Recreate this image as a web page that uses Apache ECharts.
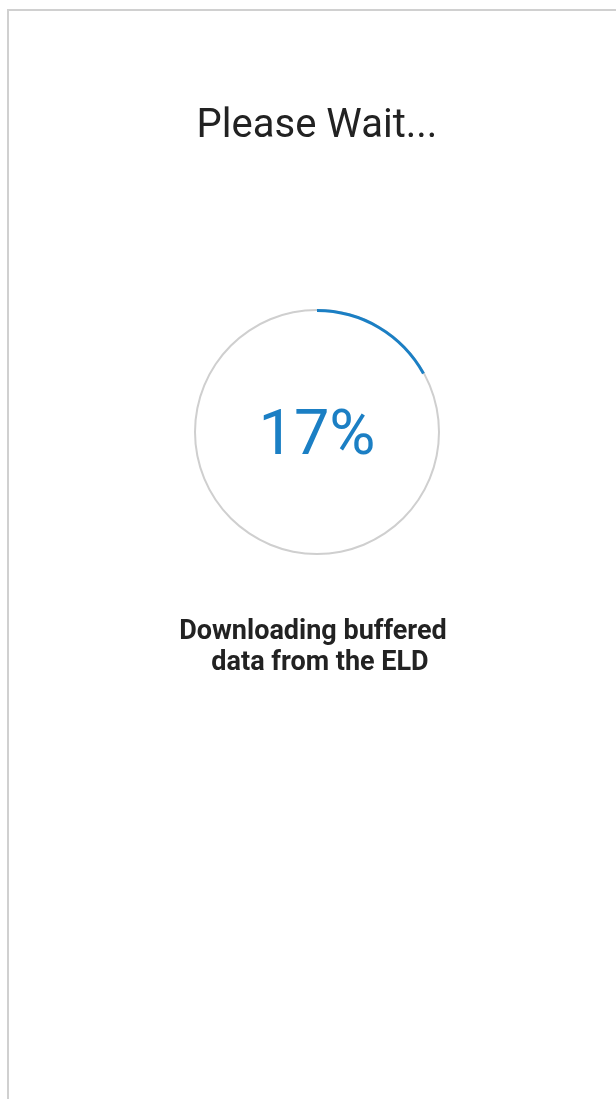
<!DOCTYPE html>
<html>
<head>
<meta charset="utf-8">
<script src="https://cdn.jsdelivr.net/npm/echarts@6/dist/echarts.min.js"></script>
<style>
  html, body { margin: 0; padding: 0; background: #fff; }
  #main { width: 616px; height: 1099px; }
</style>
</head>
<body>
<div id="main"></div>
<script>
var headline = 'Please Wait...';
var statusLines = ['Downloading buffered', 'data from the ELD'];
var progressValue = [17];
var progressRange = [0, 100];

var chartDom = document.getElementById('main');
var myChart = echarts.init(chartDom);
var option;

option = {
    backgroundColor: '#fff',
    // 外框
    graphic: [
        {
            type: 'rect',
            shape: { x: 8, y: 10, width: 640, height: 1120 },
            style: { fill: 'none', stroke: '#d0d0d0', lineWidth: 2 },
            silent: true
        },
        {
            type: 'text',
            x: 317, y: 127,
            style: {
                text: headline,
                font: '400 40px Roboto',
                fill: '#222',
                align: 'center',
                verticalAlign: 'middle'
            }
        },
        {
            type: 'text',
            x: 313, y: 632,
            style: {
                text: statusLines[0],
                font: 'bold 27px Roboto',
                fill: '#222',
                align: 'center',
                verticalAlign: 'middle'
            }
        },
        {
            type: 'text',
            x: 320, y: 663,
            style: {
                text: statusLines[1],
                font: 'bold 27px Roboto',
                fill: '#222',
                align: 'center',
                verticalAlign: 'middle'
            }
        }
    ],
    series: [
        {
            type: 'gauge',
            center: [317, 432],
            radius: 123,
            startAngle: 90,
            endAngle: -270,
            min: progressRange[0],
            max: progressRange[1],
            clockwise: true,
            pointer: { show: false },
            progress: {
                show: true,
                width: 3,
                roundCap: false,
                itemStyle: { color: '#1b7fc4' }
            },
            axisLine: {
                lineStyle: { width: 2, color: [[1, '#cfcfcf']] }
            },
            splitLine: { show: false },
            axisTick: { show: false },
            axisLabel: { show: false },
            title: { show: false },
            detail: {
                valueAnimation: false,
                offsetCenter: [0, 6],
                formatter: '{value}%',
                fontFamily: 'Roboto',
                fontWeight: 'normal',
                fontSize: 63,
                color: '#1b7fc4'
            },
            animation: false,
            data: [{ value: progressValue[0] }]
        }
    ]
};

option && myChart.setOption(option);
</script>
</body>
</html>
